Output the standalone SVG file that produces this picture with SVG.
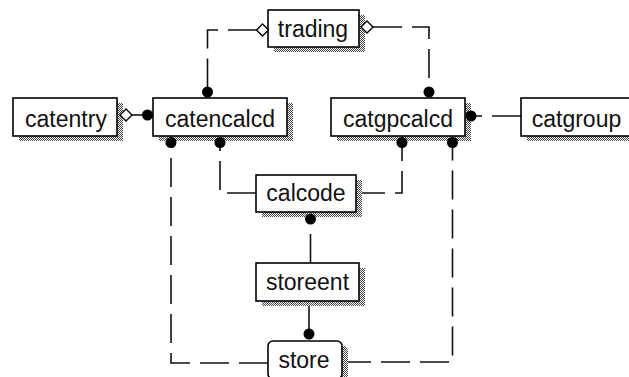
<svg xmlns="http://www.w3.org/2000/svg" width="629" height="377" viewBox="0 0 629 377">
<defs>
<pattern id="dither" width="2" height="2" patternUnits="userSpaceOnUse">
<rect x="0" y="0" width="2" height="2" fill="#ffffff"/>
<rect x="0" y="0" width="1" height="1" fill="#444"/>
<rect x="1" y="1" width="1" height="1" fill="#444"/>
</pattern>
<circle id="dot" r="5.5" fill="#000"/>
<polygon id="dia" points="-6,0 0,-6 6,0 0,6" fill="#fff" stroke="#000" stroke-width="1.4"/>
</defs>
<style>
.conn{fill:none;stroke:#111;stroke-width:1.6;stroke-dasharray:29 10}
.box{fill:#fff;stroke:#000;stroke-width:1.6}
.shadow{fill:url(#dither)}
.lbl{font-family:"Liberation Sans",Arial,sans-serif;font-size:23px;fill:#111;text-anchor:middle}
</style>
<rect width="629" height="377" fill="#fff"/>
<g id="connectors">
<path class="conn" d="M257,30 H207.5 V92"/>
<path class="conn" d="M373,27 H429 V92"/>
<path class="conn" d="M132,115 H147"/>
<path class="conn" d="M521,116 H471"/>
<path class="conn" d="M256,193 H220 V143"/>
<path class="conn" d="M356,193 H402 V143"/>
<path class="conn" d="M268,363 H171 V143"/>
<path class="conn" d="M342,362 H452.5 V143"/>
<path class="conn" d="M310.5,263 V219"/>
<path class="conn" d="M309,301 V334"/>
</g>
<g id="trading">
<rect class="shadow" x="274" y="15" width="91" height="37"/>
<rect class="box" x="268" y="10" width="91" height="37"/>
<text class="lbl" x="313" y="37">trading</text>
</g>
<g id="catentry">
<rect class="shadow" x="19" y="103" width="104" height="38"/>
<rect class="box" x="13" y="98" width="104" height="38"/>
<text class="lbl" x="66" y="127">catentry</text>
</g>
<g id="catencalcd">
<rect class="shadow" x="159" y="103" width="134" height="38"/>
<rect class="box" x="153" y="98" width="134" height="38"/>
<text class="lbl" x="220" y="127">catencalcd</text>
</g>
<g id="catgpcalcd">
<rect class="shadow" x="337" y="103" width="134" height="38"/>
<rect class="box" x="331" y="98" width="134" height="38"/>
<text class="lbl" x="398" y="127">catgpcalcd</text>
</g>
<g id="catgroup">
<rect class="shadow" x="527" y="103" width="111" height="38"/>
<rect class="box" x="521" y="98" width="111" height="38"/>
<text class="lbl" x="576.5" y="127">catgroup</text>
</g>
<g id="calcode">
<rect class="shadow" x="262" y="180" width="100" height="37"/>
<rect class="box" x="256" y="175" width="100" height="37"/>
<text class="lbl" x="306" y="201">calcode</text>
</g>
<g id="storeent">
<rect class="shadow" x="262" y="268" width="103" height="38"/>
<rect class="box" x="256" y="263" width="103" height="38"/>
<text class="lbl" x="307.5" y="290">storeent</text>
</g>
<g id="store">
<rect class="shadow" x="274" y="346" width="74" height="38" rx="5"/>
<rect class="box" x="268" y="341" width="74" height="38" rx="5"/>
<text class="lbl" x="304" y="368">store</text>
</g>
<g id="ends">
<use href="#dia" x="262.5" y="30"/>
<use href="#dia" x="367" y="27"/>
<use href="#dia" x="126" y="115"/>
<use href="#dot" x="207.5" y="92"/>
<use href="#dot" x="429" y="92"/>
<use href="#dot" x="147.5" y="115"/>
<use href="#dot" x="471" y="116"/>
<use href="#dot" x="171" y="142.5"/>
<use href="#dot" x="220" y="142.5"/>
<use href="#dot" x="402" y="142.5"/>
<use href="#dot" x="452.5" y="142.5"/>
<use href="#dot" x="310.5" y="219"/>
<use href="#dot" x="309" y="334"/>
</g>
</svg>
